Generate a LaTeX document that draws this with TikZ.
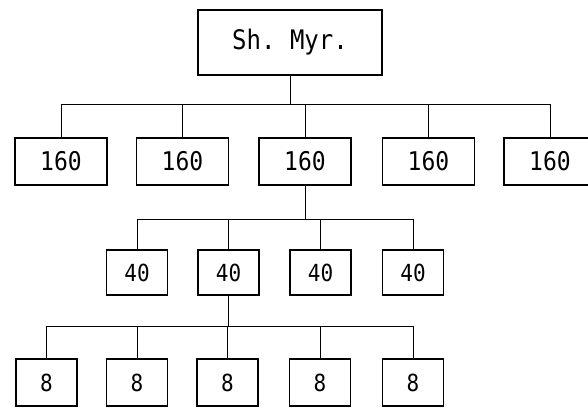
\documentclass[tikz,border=0pt]{standalone}
\usepackage{fontspec}
\usepackage{graphicx}
\setmonofont{DejaVu Sans Mono}
% slightly condensed lettering, taller than wide
\newcommand{\tallcaps}[1]{\scalebox{1}[1.12]{#1}}
\begin{document}
\begin{tikzpicture}[x=1pt,y=-1pt,
  unit/.style={draw, line width=1.2pt, inner sep=0pt, font=\ttfamily},
  headbox/.style={unit, minimum width=184pt, minimum height=65pt, font=\ttfamily\fontsize{24}{24}\selectfont},
  corpsbox/.style={unit, minimum width=92pt, minimum height=47pt, font=\ttfamily\fontsize{23}{23}\selectfont},
  divbox/.style={unit, minimum width=61pt, minimum height=45pt, font=\ttfamily\fontsize{21}{21}\selectfont},
  brigbox/.style={unit, minimum width=61pt, minimum height=47pt, font=\ttfamily\fontsize{21}{21}\selectfont},
  link/.style={line width=0.8pt}]
\useasboundingbox (0,0) rectangle (588,409);
\clip (0,0) rectangle (588,409);

% command
\node[headbox] (top) at (290,42.5) {\tallcaps{Sh. Myr.}};

% second level
\node[corpsbox] (c1) at (61,161.5) {\tallcaps{160}};
\node[corpsbox] (c2) at (182.5,161.5) {\tallcaps{160}};
\node[corpsbox] (c3) at (305,161.5) {\tallcaps{160}};
\node[corpsbox] (c4) at (428.5,161.5) {\tallcaps{160}};
\node[corpsbox] (c5) at (550,161.5) {\tallcaps{160}};

% third level
\node[divbox] (d1) at (137,272.5) {\tallcaps{40}};
\node[divbox] (d2) at (228.5,272.5) {\tallcaps{40}};
\node[divbox] (d3) at (320.5,272.5) {\tallcaps{40}};
\node[divbox] (d4) at (413,272.5) {\tallcaps{40}};

% fourth level
\node[brigbox] (b1) at (46.5,382.5) {\tallcaps{8}};
\node[brigbox] (b2) at (137,382.5) {\tallcaps{8}};
\node[brigbox] (b3) at (227.5,382.5) {\tallcaps{8}};
\node[brigbox] (b4) at (320,382.5) {\tallcaps{8}};
\node[brigbox] (b5) at (413,382.5) {\tallcaps{8}};

% bus lines
\coordinate (busA) at (0,104);
\coordinate (busB) at (0,219);
\coordinate (busC) at (0,326);

\foreach \n in {c1,c2,c3,c4,c5}
  \draw[link] (top.south) -- (top.south |- busA) -| (\n.north);
\foreach \n in {d1,d2,d3,d4}
  \draw[link] (c3.south) -- (c3.south |- busB) -| (\n.north);
\foreach \n in {b1,b2,b3,b4,b5}
  \draw[link] (d2.south) -- (d2.south |- busC) -| (\n.north);
\end{tikzpicture}
\end{document}
